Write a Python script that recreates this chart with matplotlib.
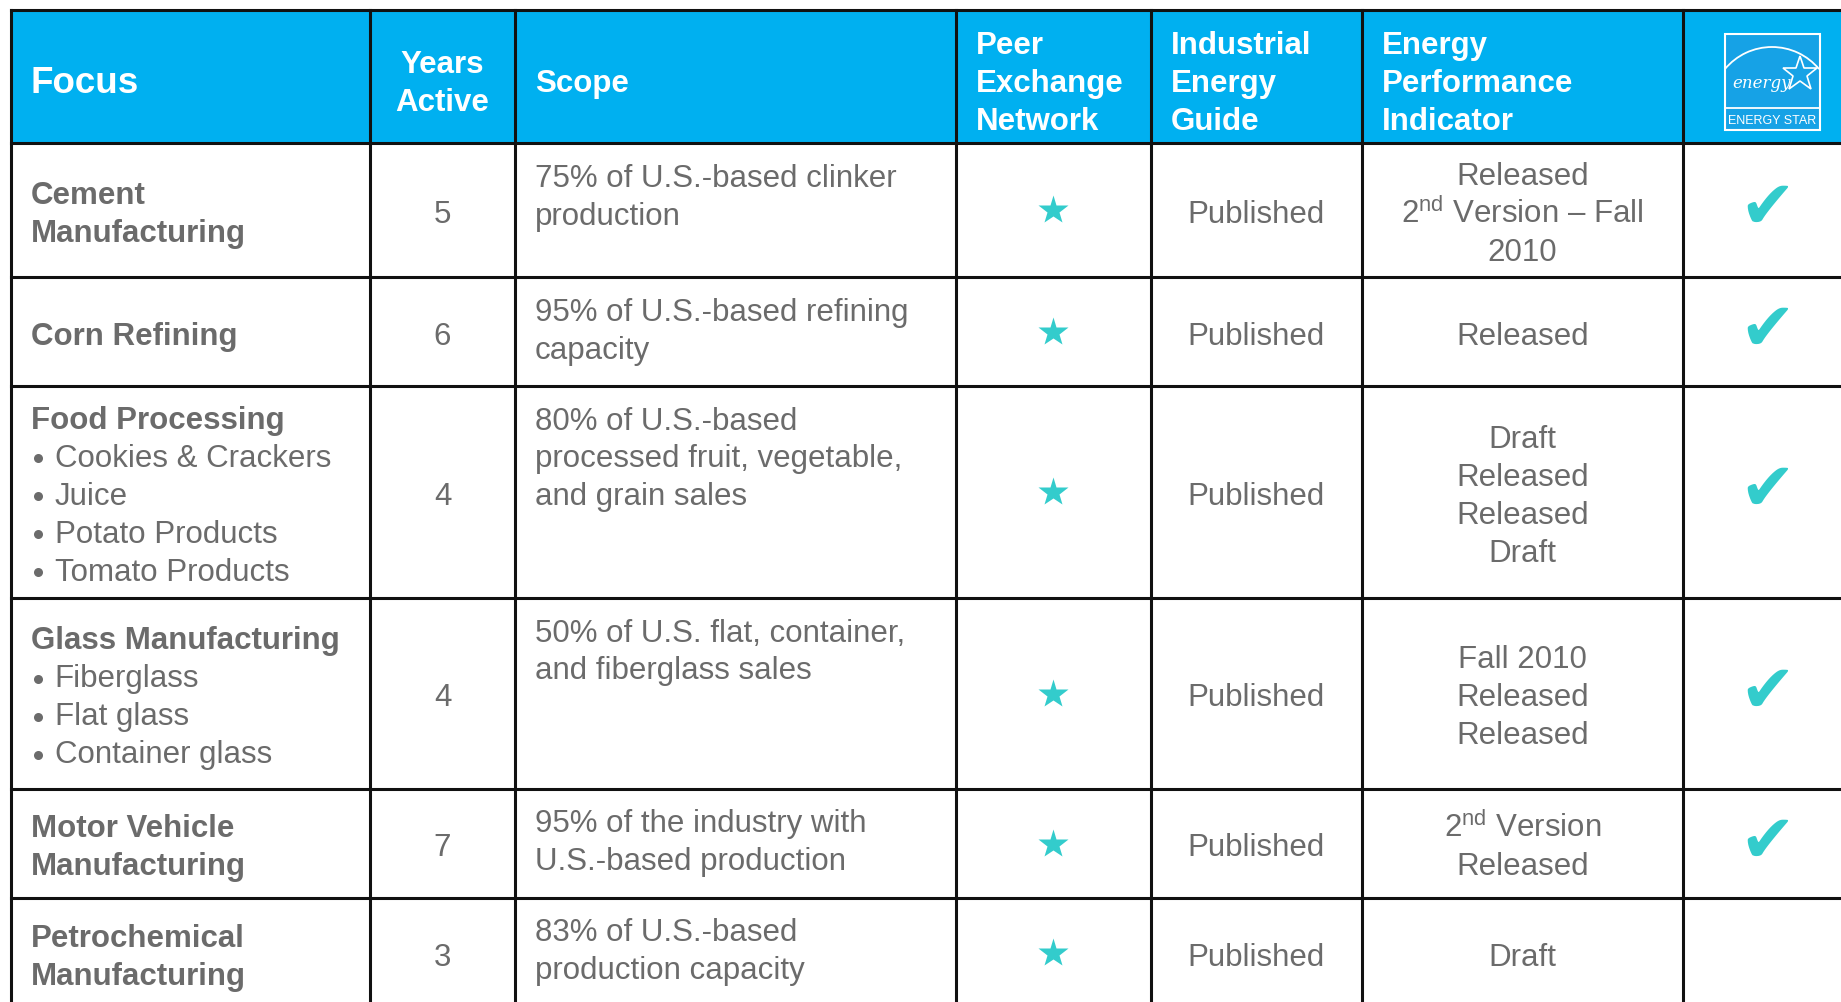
import matplotlib
matplotlib.use("Agg")
import matplotlib.pyplot as plt
from matplotlib.patches import Rectangle, Arc

plt.rcParams['font.family'] = ['Liberation Sans', 'DejaVu Sans']
plt.rcParams['mathtext.fontset'] = 'custom'
plt.rcParams['mathtext.rm'] = 'Liberation Sans'

# table content
headers = ["Focus", "Years\nActive", "Scope", "Peer\nExchange\nNetwork",
           "Industrial\nEnergy\nGuide", "Energy\nPerformance\nIndicator"]
focus = ["Cement\nManufacturing", "Corn Refining", "Food Processing",
         "Glass Manufacturing", "Motor Vehicle\nManufacturing",
         "Petrochemical\nManufacturing"]
subsectors = [[], [], ["Cookies & Crackers", "Juice", "Potato Products", "Tomato Products"],
              ["Fiberglass", "Flat glass", "Container glass"], [], []]
years = [5, 6, 4, 4, 7, 3]
scope = ["75% of U.S.-based clinker\nproduction",
         "95% of U.S.-based refining\ncapacity",
         "80% of U.S.-based\nprocessed fruit, vegetable,\nand grain sales",
         "50% of U.S. flat, container,\nand fiberglass sales",
         "95% of the industry with\nU.S.-based production",
         "83% of U.S.-based\nproduction capacity"]
peer = [True, True, True, True, True, True]
guide = ["Published"] * 6
epi = ["Released\n2$^{\\mathrm{nd}}$ Version \u2013 Fall\n2010",
       "Released",
       "Draft\nReleased\nReleased\nDraft",
       "Fall 2010\nReleased\nReleased",
       "2$^{\\mathrm{nd}}$ Version\nReleased",
       "Draft"]
energy_star = [True, True, True, True, True, False]

# layout (pixels)
W, H = 1841, 1003
col_x = [10.6, 370, 515, 956, 1151, 1362, 1683, 1870]
row_y = [10.6, 144, 278, 387, 599, 790, 899, 1009]
pad = 20
lsp = 38
fs = 22.5
blue = "#00b0f0"
gray = "#6b6b6b"
teal = "#33cccc"

fig = plt.figure(figsize=(W / 100, H / 100), dpi=100)
ax = fig.add_axes([0, 0, 1, 1])
ax.set_xlim(0, W)
ax.set_ylim(H, 0)
ax.axis("off")


def lines(x, yc, txt, ha="left", top=None, **kw):
    parts = txt.split("\n")
    n = len(parts)
    for i, p in enumerate(parts):
        if top is None:
            y = yc + (i - (n - 1) / 2) * lsp
        else:
            y = top + i * lsp
        ax.text(x, y + 12, p, ha=ha, va="baseline", **kw)


# header
ax.add_patch(Rectangle((col_x[0], row_y[0]), col_x[-1] - col_x[0], row_y[1] - row_y[0],
                       facecolor=blue, edgecolor="none"))
hc = (row_y[0] + row_y[1]) / 2 + 2.5
for j, h in enumerate(headers):
    size = 26.5 if j == 0 else fs
    if j == 1:
        lines((col_x[1] + col_x[2]) / 2, hc, h, ha="center", color="white", fontsize=size, fontweight="bold")
    else:
        lines(col_x[j] + pad, hc + (1.5 if j == 0 else 0), h, color="white", fontsize=size, fontweight="bold")

# energy star logo
lx, ly, lw_, lh = 1725, 35, 95, 96
ax.add_patch(Rectangle((lx, ly), lw_, lh, facecolor="#16a2e6", edgecolor="white", lw=1.5))
ax.add_patch(Arc((1772, 109.2), 122.4, 122.4, theta1=219.8, theta2=320.2, color="white", lw=1.3))
ax.plot([lx, lx + lw_], [109, 109], color="white", lw=1.3)
ax.text(lx + lw_ / 2, 121, "ENERGY STAR", ha="center", va="center", color="white",
        fontsize=9, family=["Liberation Sans Narrow", "Liberation Sans"])
ax.text(1762, 83, "energy", ha="center", va="center", color="white", fontsize=12,
        style="italic", family="DejaVu Serif")
ax.plot([1800], [75], marker="*", markersize=26, mfc="none", mec="white", mew=1.2)

# body
for i in range(len(focus)):
    top, bot = row_y[i + 1], row_y[i + 2]
    yc = (top + bot) / 2
    subs = subsectors[i]
    n = focus[i].count("\n") + 1 + len(subs)
    first = yc - (n - 1) / 2 * lsp
    lines(col_x[0] + pad, None, focus[i], top=first, color=gray, fontsize=fs, fontweight="bold")
    for k, s in enumerate(subs):
        y = first + (k + 1) * lsp
        ax.plot([col_x[0] + pad + 7], [y + 4], marker="o", markersize=6.5, color=gray, mec="none")
        ax.text(col_x[0] + pad + 24, y + 12, s, ha="left", va="baseline", color=gray, fontsize=fs)
    ax.text((col_x[1] + col_x[2]) / 2, yc + 12, str(years[i]), ha="center", va="baseline",
            color=gray, fontsize=fs)
    lines(col_x[2] + pad, None, scope[i], top=top + 30.5, color=gray, fontsize=fs)
    if peer[i]:
        ax.plot([(col_x[3] + col_x[4]) / 2], [yc], marker="*", markersize=22, color=teal, mec="none")
    ax.text((col_x[4] + col_x[5]) / 2, yc + 12, guide[i], ha="center", va="baseline",
            color=gray, fontsize=fs)
    lines((col_x[5] + col_x[6]) / 2, yc, epi[i], ha="center", color=gray, fontsize=fs)
    if energy_star[i]:
        ax.text(1767, yc - 2, "\u2714", ha="center", va="center", color=teal, fontsize=48,
                family="DejaVu Sans")

# grid lines
for x in col_x[:-1]:
    ax.plot([x, x], [row_y[0], row_y[-1]], color="#111111", lw=2.2, solid_capstyle="projecting")
for y in row_y:
    ax.plot([col_x[0], col_x[-1]], [y, y], color="#111111", lw=2.2, solid_capstyle="projecting")

fig.savefig("out.png", dpi=100, facecolor="white")
